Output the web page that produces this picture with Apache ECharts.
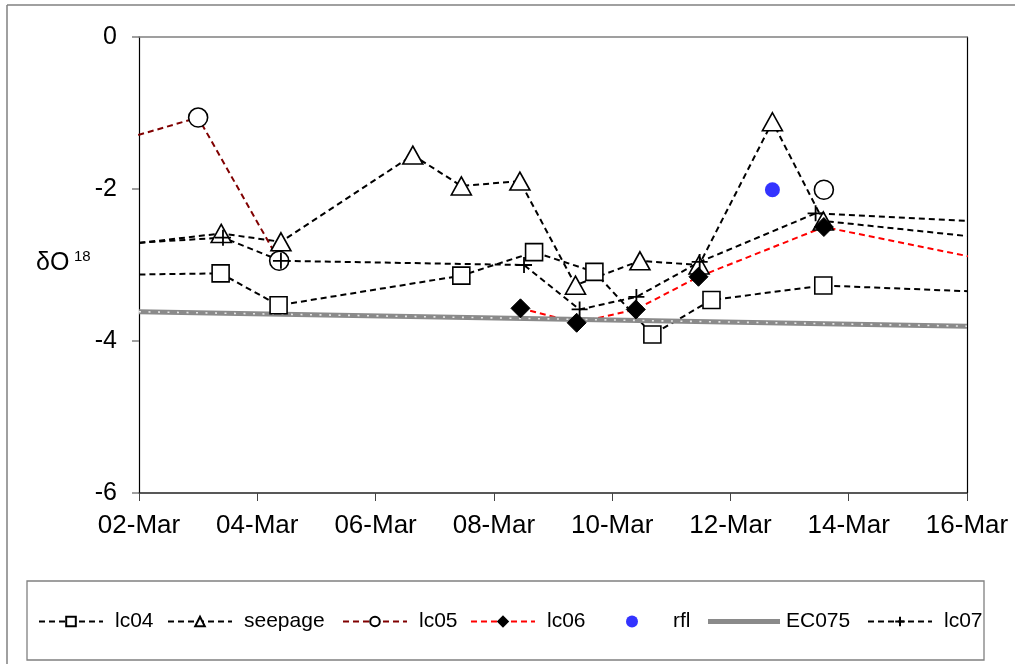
<!DOCTYPE html>
<html>
<head>
<meta charset="utf-8">
<script src="https://cdn.jsdelivr.net/npm/echarts@6/dist/echarts.min.js"></script>
<style>
html,body{margin:0;padding:0;background:#fff;}
#c{width:1015px;height:664px;}
</style>
</head>
<body>
<div id="c"></div>
<script>
// ---- data (x = day of March, y = δO18) ----
var xTicks = [2, 4, 6, 8, 10, 12, 14, 16];
var yTicks = [0, -2, -4, -6];
var seriesNames = ['lc04', 'seepage', 'lc05', 'lc06', 'rfl', 'EC075', 'lc07'];

var lc04Day = [1.5, 3.38, 4.36, 7.45, 8.68, 9.70, 10.68, 11.68, 13.57, 16.5];
var lc04Val = [-3.13, -3.11, -3.53, -3.14, -2.83, -3.09, -3.915, -3.46, -3.27, -3.36];

var seepageDay = [1.5, 3.39, 4.40, 6.63, 7.45, 8.44, 9.38, 10.47, 11.47, 12.71, 13.57, 16.5];
var seepageVal = [-2.755, -2.585, -2.695, -1.554, -1.96, -1.896, -3.265, -2.945, -3.0, -1.115, -2.42, -2.66];

var lc05Day = [1.5, 3.0, 4.37, null, 13.58];
var lc05Val = [-1.40, -1.06, -2.945, null, -2.01];

var lc06Day = [8.45, 9.40, 10.40, 11.46, 13.58, 16.5];
var lc06Val = [-3.57, -3.76, -3.585, -3.155, -2.50, -2.96];

var rflDay = [12.71];
var rflVal = [-2.01];

var ec075Day = [2, 16];
var ec075Val = [-3.615, -3.805];

var lc07Day = [1.5, 3.42, 4.40, 8.51, 9.45, 10.41, 11.48, 13.44, 16.5];
var lc07Val = [-2.73, -2.64, -2.945, -3.00, -3.585, -3.42, -2.96, -2.32, -2.44];

function pairs(d, v) {
  return d.map(function (x, i) {
    if (x === null || v[i] === null) return ['-', '-'];
    return [x, v[i]];
  });
}

var FONT = '"Liberation Sans", Arial, sans-serif';
var DASH = [6, 4];
var plusPath = 'path://M0,5L10,5M5,0L5,10';

// legend item layout (positions only)
var legendLeft = [38, 167, 342, 470, 626, 708, 867];
var legends = seriesNames.map(function (n, i) {
  var item = {name: n};
  var w = 64, pad = 7, h = 12;
  if (n === 'EC075') { item.icon = 'path://M0,0L72,0L72,5L0,5Z'; w = 72; pad = 1; }
  if (n === 'rfl') { item.icon = 'circle'; w = 12; pad = 30; }
  return {
    left: legendLeft[i], top: 611, padding: 0, orient: 'horizontal',
    itemWidth: w, itemHeight: h, itemGap: 0, selectedMode: false,
    textStyle: {fontFamily: FONT, fontSize: 21, color: '#000', padding: [0, 0, 0, pad]},
    data: [item]
  };
});

var chart = echarts.init(document.getElementById('c'), null, {renderer: 'canvas'});

var option = {
  animation: false,
  backgroundColor: '#fff',
  grid: {left: 139, right: 48, top: 37, bottom: 171, containLabel: false},
  xAxis: [{
    type: 'value', min: xTicks[0], max: xTicks[xTicks.length - 1], interval: 2,
    axisLine: {show: true, onZero: false, lineStyle: {color: '#222', width: 1.5}},
    axisTick: {show: true, inside: false, length: 8, lineStyle: {color: '#444', width: 1}},
    splitLine: {show: false},
    axisLabel: {
      margin: 20, color: '#000', fontFamily: FONT, fontSize: 26,
      formatter: function (v) { return (v < 10 ? '0' : '') + v + '-Mar'; }
    }
  }, {
    type: 'value', position: 'top', min: xTicks[0], max: xTicks[xTicks.length - 1],
    axisLine: {show: true, onZero: false, lineStyle: {color: '#808080', width: 1.5}},
    axisTick: {show: false}, axisLabel: {show: false}, splitLine: {show: false}
  }],
  yAxis: [{
    type: 'value', min: yTicks[yTicks.length - 1], max: yTicks[0], interval: 2,
    axisLine: {show: true, onZero: false, lineStyle: {color: '#000', width: 1.2}},
    axisTick: {show: true, inside: false, length: 7, lineStyle: {color: '#808080', width: 1.5}},
    splitLine: {show: false},
    axisLabel: {margin: 22, color: '#000', fontFamily: FONT, fontSize: 25}
  }, {
    type: 'value', position: 'right', min: yTicks[yTicks.length - 1], max: yTicks[0],
    axisLine: {show: true, onZero: false, lineStyle: {color: '#000', width: 1.2}},
    axisTick: {show: false}, axisLabel: {show: false}, splitLine: {show: false}
  }],
  legend: legends,
  series: [
    {
      name: 'lc04', type: 'line', data: pairs(lc04Day, lc04Val),
      symbol: 'rect', symbolSize: 17, showAllSymbol: true,
      lineStyle: {color: '#000', width: 2, type: DASH},
      itemStyle: {color: '#fff', borderColor: '#000', borderWidth: 1.6},
      z: 3
    },
    {
      name: 'seepage', type: 'line', data: pairs(seepageDay, seepageVal),
      symbol: 'triangle', symbolSize: [20, 18], showAllSymbol: true,
      lineStyle: {color: '#000', width: 2, type: DASH},
      itemStyle: {color: '#fff', borderColor: '#000', borderWidth: 1.6},
      z: 3
    },
    {
      name: 'lc05', type: 'line', data: pairs(lc05Day, lc05Val),
      symbol: 'circle', symbolSize: 19, showAllSymbol: true, connectNulls: false,
      lineStyle: {color: '#800000', width: 2, type: DASH},
      itemStyle: {color: '#fff', borderColor: '#000', borderWidth: 1.6},
      z: 3
    },
    {
      name: 'lc06', type: 'line', data: pairs(lc06Day, lc06Val),
      symbol: 'diamond', symbolSize: 19, showAllSymbol: true,
      lineStyle: {color: '#ff0000', width: 2, type: DASH},
      itemStyle: {color: '#000', borderColor: '#000', borderWidth: 1},
      z: 3
    },
    {
      name: 'rfl', type: 'scatter', data: pairs(rflDay, rflVal),
      symbol: 'circle', symbolSize: 15,
      itemStyle: {color: '#0000ff'},
      z: 3
    },
    {
      name: 'EC075', type: 'line', data: pairs(ec075Day, ec075Val),
      symbol: 'none',
      lineStyle: {color: '#8a8a8a', width: 5, type: 'solid'},
      itemStyle: {color: '#8a8a8a'},
      z: 3
    },
    {
      name: 'EC075 dots', type: 'line', data: pairs(ec075Day, ec075Val),
      symbol: 'none', silent: true,
      lineStyle: {color: '#e6e6e6', width: 1.6, type: [2, 7.5]},
      z: 3
    },
    {
      name: 'lc07', type: 'line', data: pairs(lc07Day, lc07Val),
      symbol: plusPath, symbolSize: 16, showAllSymbol: true,
      lineStyle: {color: '#000', width: 2, type: DASH},
      itemStyle: {color: 'rgba(0,0,0,0)', borderColor: '#000', borderWidth: 1.8},
      z: 3
    }
  ],
  graphic: [
    {type: 'line', shape: {x1: 7, y1: 5, x2: 1015, y2: 5}, style: {stroke: '#808080', lineWidth: 1.5}, silent: true},
    {type: 'line', shape: {x1: 7, y1: 5, x2: 7, y2: 664}, style: {stroke: '#808080', lineWidth: 1.5}, silent: true},
    {type: 'rect', shape: {x: 27, y: 581, width: 957, height: 79}, style: {fill: 'none', stroke: '#808080', lineWidth: 1.3}, silent: true},
    {type: 'text', x: 36, y: 263, style: {text: 'δO', font: '25px ' + FONT, fill: '#000', verticalAlign: 'middle', align: 'left'}, silent: true},
    {type: 'text', x: 74, y: 257, style: {text: '18', font: '15px ' + FONT, fill: '#000', verticalAlign: 'middle', align: 'left'}, silent: true}
  ]
};

chart.setOption(option);
</script>
</body>
</html>
